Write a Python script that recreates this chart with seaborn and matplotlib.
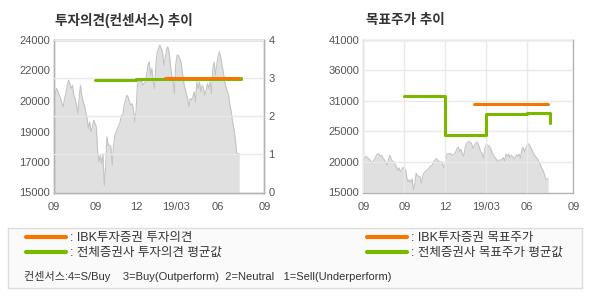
import numpy as np
import pandas as pd
import matplotlib
matplotlib.use("Agg")
import matplotlib.pyplot as plt
import seaborn as sns
from matplotlib.lines import Line2D

sns.set_theme(style="white")
plt.rcParams['font.family'] = ['Liberation Sans', 'Noto Sans CJK KR', 'DejaVu Sans']

# ---------------- data ----------------
price_start = "2018-06-01"
price_end = "2019-07-19"
prices = [
    20650, 20840, 21140, 20940, 20750, 20550, 20250, 20060, 20550, 20840, 21330, 21630,
    21430, 21140, 21330, 20750, 20550, 20150, 19660, 20550, 21330, 20750, 20350, 20150,
    19760, 19370, 18780, 19170, 18580, 18880, 19270, 19070, 18880, 17400, 16810,
    17200, 16710, 17300, 15430, 16420, 18290, 17790, 17790, 17690, 16610, 17790, 18380,
    18580, 18780, 18970, 19170, 19560, 19560, 20150, 20450, 20740, 20640, 20350, 20150,
    20250, 19960, 19170, 19760, 21330, 21630, 21530, 21630, 21330, 21430, 21530,
    21920, 22510, 22710, 21920, 22320, 21530, 21140, 22510, 23300, 23500, 23700, 23500,
    23300, 22510, 22910, 23400, 23600, 23300, 22510, 21920, 21630, 20840, 22510, 23100,
    23100, 22910, 22710, 22120, 21530, 21140, 20840, 20550, 20060, 20550, 20450, 20640,
    20940, 20350,
    21530, 21140, 21530, 20940, 21330, 21140, 20740, 21040, 21430, 21140, 21530, 20840,
    22320, 22710, 21920, 22510, 23010, 23300, 23010, 22510, 22120, 21530, 21240, 20940,
    20740, 20150, 19760, 19170, 18780, 18190, 17400, 17200, 17300,
]

# consensus rating (1-4)
ibk_rating_dates = ["2019-02-03", "2019-07-19"]
ibk_rating = [3.0, 3.0]
avg_rating_dates = ["2018-09-01", "2018-12-01", "2019-06-01", "2019-07-24"]
avg_rating = [2.95, 2.97, 2.97, 3.0]

# target price
ibk_target_dates = ["2019-02-03", "2019-07-19"]
ibk_target = [30000, 30000]
avg_target_dates = ["2018-09-01", "2018-12-01", "2019-03-01", "2019-06-01", "2019-07-24"]
avg_target = [31400, 24800, 28350, 28550, 26800]

x_tick_dates = ["2018-06-01", "2018-09-01", "2018-12-01", "2019-03-01", "2019-06-01", "2019-09-13"]
x_tick_labels = ["09", "09", "12", "19/03", "06", "09"]

left_title = "투자의견(컨센서스) 추이"
right_title = "목표주가 추이"
legend_labels = [": IBK투자증권 투자의견", ": 전체증권사 투자의견 평균값",
                 ": IBK투자증권 목표주가", ": 전체증권사 목표주가 평균값"]
note = "컨센서스:4=S/Buy    3=Buy(Outperform)  2=Neutral   1=Sell(Underperform)"

# ---------------- frames ----------------
price_df = pd.DataFrame({
    "date": pd.date_range(price_start, price_end, periods=len(prices)),
    "price": prices,
})
ibk_r = pd.DataFrame({"date": pd.to_datetime(ibk_rating_dates), "v": ibk_rating})
avg_r = pd.DataFrame({"date": pd.to_datetime(avg_rating_dates), "v": avg_rating})
ibk_t = pd.DataFrame({"date": pd.to_datetime(ibk_target_dates), "v": ibk_target})
avg_t = pd.DataFrame({"date": pd.to_datetime(avg_target_dates), "v": avg_target})
xticks = pd.to_datetime(x_tick_dates)

ORANGE = "#f57700"
GREEN = "#7ab800"
FILL = "#e0e0e0"
PLINE = "#c4c4c4"
GRID = "#e9e9e9"
SPINE = "#b3b3b3"
TXT = "#555555"

fig = plt.figure(figsize=(5.9, 3.0), dpi=100)
W, H = 590, 300


def axes_px(l, t, r, b):
    return fig.add_axes([l / W, 1 - b / H, (r - l) / W, (b - t) / H])


def style(ax):
    for s in ax.spines.values():
        s.set_color(SPINE)
        s.set_linewidth(1.0)
    ax.tick_params(length=0, labelsize=8, colors=TXT, pad=3)
    ax.tick_params(axis="x", pad=7)


# ---------------- left chart ----------------
axL = axes_px(54, 40, 264.3, 192.5)
axL.fill_between(price_df["date"], price_df["price"], 15000, color=FILL, lw=0, zorder=1)
sns.lineplot(data=price_df, x="date", y="price", ax=axL, color=PLINE, lw=0.8, zorder=1.5)
axL.set_ylim(15000, 24000)
yt = np.linspace(15000, 24000, 6)
axL.set_yticks(yt)
axL.set_yticklabels([f"{round(v / 1000) * 1000:.0f}" for v in yt])
axL.set_xlim(xticks[0], xticks[-1])
axL.set_xticks(xticks)
axL.set_xticklabels(x_tick_labels)
axL.set_xlabel("")
axL.set_ylabel("")
style(axL)

axR2 = axL.twinx()
axR2.set_ylim(0, 4)
axR2.set_yticks([0, 1, 2, 3, 4])
axR2.set_xlim(xticks[0], xticks[-1])
axR2.set_xticks(xticks)
axR2.grid(True, axis="both", color=GRID, lw=1.0)
axR2.set_axisbelow(False)
sns.lineplot(data=avg_r, x="date", y="v", ax=axR2, color=GREEN, lw=2.2,
             drawstyle="steps-post", zorder=3)
sns.lineplot(data=ibk_r, x="date", y="v", ax=axR2, color=ORANGE, lw=2.2,
             drawstyle="steps-post", zorder=4)
axR2.set_xlim(xticks[0], xticks[-1])
axR2.set_ylabel("")
axR2.set_xlabel("")
style(axR2)

# ---------------- right chart ----------------
axT = axes_px(363.3, 39.5, 573.3, 192.5)
axT.fill_between(price_df["date"], price_df["price"], 15000, color=FILL, lw=0, zorder=1)
sns.lineplot(data=price_df, x="date", y="price", ax=axT, color=PLINE, lw=0.8, zorder=1.5)
sns.lineplot(data=avg_t, x="date", y="v", ax=axT, color=GREEN, lw=2.2,
             drawstyle="steps-post", zorder=3)
sns.lineplot(data=ibk_t, x="date", y="v", ax=axT, color=ORANGE, lw=2.2,
             drawstyle="steps-post", zorder=4)
axT.set_ylim(15000, 41000)
yt2 = np.linspace(15000, 41000, 6)
axT.set_yticks(yt2)
axT.set_yticklabels([f"{round(v / 1000) * 1000:.0f}" for v in yt2])
axT.set_xlim(xticks[0], xticks[-1])
axT.set_xticks(xticks)
axT.set_xticklabels(x_tick_labels)
axT.grid(True, axis="both", color=GRID, lw=1.0)
axT.set_axisbelow(False)
axT.set_xlabel("")
axT.set_ylabel("")
style(axT)

# ---------------- titles ----------------
fig.text(55 / W, 1 - 20 / H, left_title, fontsize=9.8, fontweight="bold",
         color="#333333", va="center", ha="left")
fig.text(366.5 / W, 1 - 20 / H, right_title, fontsize=9.8, fontweight="bold",
         color="#333333", va="center", ha="left")

# ---------------- legend box ----------------
axLeg = axes_px(8, 227.5, 582, 288)
axLeg.set_facecolor("#fafafa")
axLeg.set_xticks([])
axLeg.set_yticks([])
for s in axLeg.spines.values():
    s.set_color("#dddddd")
    s.set_linewidth(1.0)

h_or = Line2D([], [], color=ORANGE, lw=3)
h_gr = Line2D([], [], color=GREEN, lw=3)
leg_kw = dict(frameon=False, fontsize=9, handlelength=3.2, handletextpad=0.3,
              labelspacing=0.25, borderpad=0, borderaxespad=0, loc="upper left",
              labelcolor="#333333")
leg1 = axLeg.legend([h_or, h_gr], legend_labels[:2],
                    bbox_to_anchor=(26 / W, 1 - 232 / H), bbox_transform=fig.transFigure, **leg_kw)
axLeg.add_artist(leg1)
leg2 = axLeg.legend([h_or, h_gr], legend_labels[2:],
                    bbox_to_anchor=(367 / W, 1 - 232 / H), bbox_transform=fig.transFigure, **leg_kw)
fig.text(24 / W, 1 - 277 / H, note, fontsize=8, color="#333333", va="center", ha="left")

fig.savefig("out.png", dpi=100, facecolor="white")
